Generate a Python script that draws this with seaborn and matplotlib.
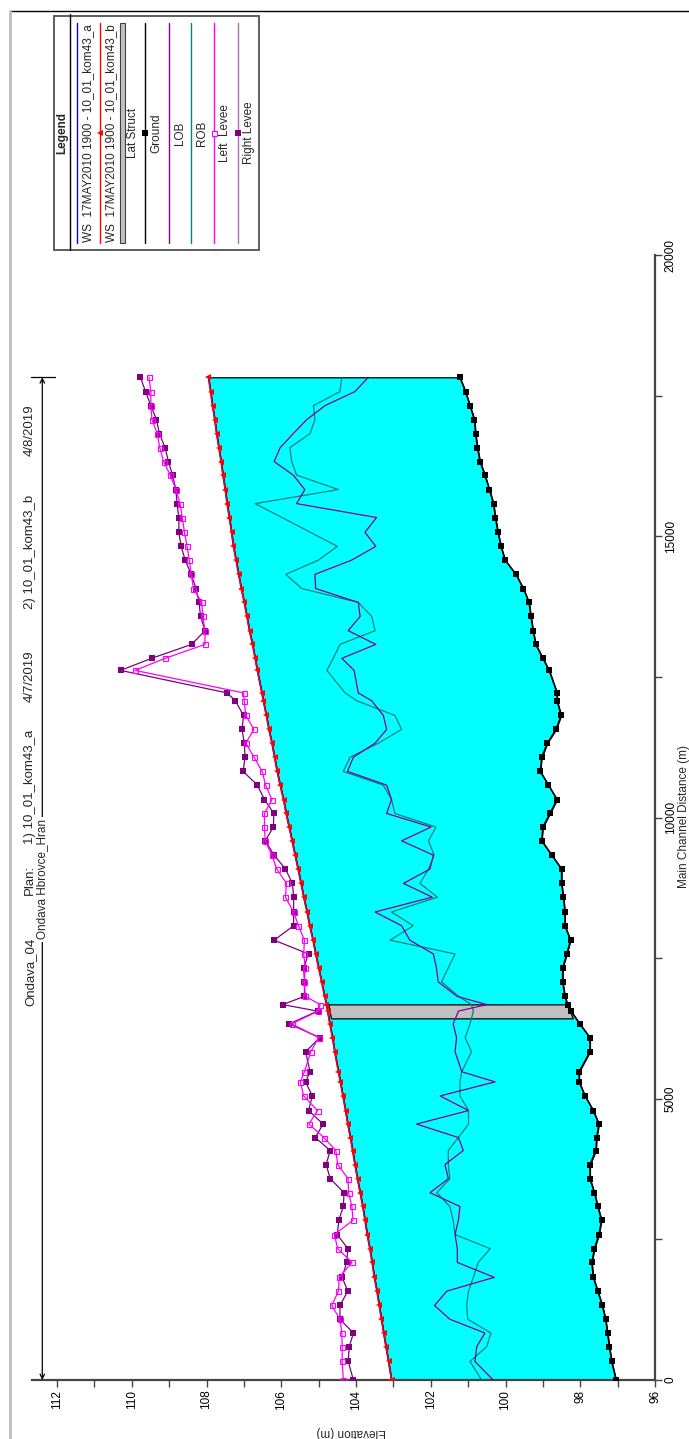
import matplotlib
matplotlib.use("Agg")
import matplotlib.pyplot as plt
import matplotlib.transforms as mtransforms
from matplotlib.lines import Line2D
from matplotlib.patches import Rectangle
from matplotlib.ticker import MultipleLocator
import seaborn as sns

sns.set_theme(style="white")
plt.rcParams["font.family"] = ["Liberation Sans", "DejaVu Sans"]

W, H = 689, 1439

# ── profile data (main channel distance in m, elevations in m) ──────────────
dist = [0, 330, 595, 835, 1080, 1325, 1580, 1825, 2090, 2335, 2585, 2840, 3085, 3330, 3578,
        3830, 4080, 4310, 4550, 4790, 5050, 5300, 5480, 5836, 6087, 6331, 6558, 6674, 6821,
        7078, 7329, 7574, 7819, 8076, 8320, 8584, 8828, 9085, 9330, 9585, 9830, 10072, 10320, 10575, 10820,
        11072, 11322, 11565, 11815, 12075, 12215, 12615, 12830, 13077, 13322, 13574, 13824, 14070, 14322, 14575,
        14820, 15070, 15333, 15580, 15830, 16087, 16328, 16575, 16824, 17073, 17322, 17571, 17826]

ground = [97.04, 97.16, 97.22, 97.27, 97.32, 97.41, 97.53, 97.65, 97.69, 97.62, 97.50, 97.43, 97.53, 97.62, 97.74,
          97.74, 97.58, 97.56, 97.50, 97.65, 97.87, 98.03, 98.03, 97.74, 97.74, 98.01, 98.25, 98.34, 98.41,
          98.47, 98.47, 98.36, 98.26, 98.41, 98.41, 98.45, 98.50, 98.50, 98.76, 99.03, 99.00, 98.81, 98.62, 98.85, 99.07,
          99.03, 98.88, 98.65, 98.51, 98.62, 98.62, 98.83, 99.00, 99.19, 99.26, 99.32, 99.37, 99.52, 99.72, 100.01,
          100.12, 100.20, 100.27, 100.32, 100.43, 100.55, 100.68, 100.75, 100.80, 100.83, 100.95, 101.07, 101.22]

ws_a = [103.05, 103.13, 103.20, 103.26, 103.32, 103.38, 103.44, 103.51, 103.57, 103.63, 103.70, 103.76, 103.82, 103.89, 103.96,
        104.03, 104.09, 104.15, 104.22, 104.28, 104.35, 104.42, 104.47, 104.57, 104.63, 104.70, 104.76, 104.79, 104.84,
        104.92, 105.00, 105.08, 105.15, 105.24, 105.31, 105.40, 105.47, 105.55, 105.63, 105.71, 105.79, 105.87, 105.94, 106.03, 106.11,
        106.18, 106.25, 106.33, 106.40, 106.48, 106.52, 106.64, 106.70, 106.77, 106.85, 106.92, 106.99, 107.07, 107.14, 107.21,
        107.28, 107.33, 107.39, 107.45, 107.50, 107.56, 107.61, 107.67, 107.73, 107.78, 107.84, 107.89, 107.95]
ws_b = list(ws_a)

right_levee = [104.07, 104.21, 104.18, 104.07, 104.43, 104.43, 104.22, 104.37, 104.25, 104.22, 104.50, 104.46, 104.34, 104.32, 104.69,
               104.80, 104.69, 105.09, 104.88, 105.27, 105.17, 105.35, 105.23, 105.35, 104.97, 105.79, 105.03, 105.96, 105.38,
               105.38, 105.40, 105.27, 106.19, 105.67, 105.67, 105.67, 105.70, 105.89, 106.19, 106.43, 106.21, 106.20, 106.45, 106.64, 107.02,
               106.97, 106.99, 107.05, 107.01, 107.23, 107.45, 110.30, 109.47, 108.40, 108.04, 108.16, 108.20, 108.28, 108.41, 108.57,
               108.68, 108.74, 108.74, 108.79, 108.82, 108.91, 109.02, 109.11, 109.26, 109.34, 109.49, 109.63, 109.77]

left_levee = [104.34, 104.37, 104.37, 104.38, 104.43, 104.65, 104.47, 104.45, 104.11, 104.49, 104.58, 104.08, 104.11, 104.20, 104.21,
              104.49, 104.54, 104.86, 105.26, 105.03, 105.40, 105.49, 105.38, 105.21, 105.00, 105.72, 105.01, 104.96, 105.36,
              105.38, 105.36, 105.40, 105.38, 105.54, 105.67, 105.89, 105.86, 106.12, 106.25, 106.43, 106.45, 106.45, 106.25, 106.42, 106.51,
              106.73, 106.95, 106.73, 106.95, 106.99, 107.01, 109.91, 109.11, 108.04, 108.04, 108.10, 108.13, 108.35, 108.41, 108.46,
              108.52, 108.59, 108.65, 108.71, 108.82, 108.97, 109.15, 109.25, 109.32, 109.46, 109.49, 109.49, 109.54]

lob = [100.33, 100.82, 100.77, 100.55, 101.49, 101.90, 101.57, 100.30, 101.29, 101.29, 101.35, 101.26, 101.22, 102.02, 101.53,
       101.62, 101.13, 101.26, 102.38, 100.99, 101.75, 100.28, 101.17, 101.35, 101.31, 101.40, 101.26, 100.50, 101.30,
       101.80, 101.85, 101.93, 102.56, 102.78, 103.49, 101.96, 102.73, 102.02, 101.93, 102.78, 101.99, 103.18, 103.05, 103.18, 104.23,
       104.07, 103.49, 103.18, 103.27, 103.58, 103.94, 104.05, 104.38, 103.47, 104.21, 103.89, 103.94, 105.08, 105.10, 104.12,
       103.47, 103.76, 103.45, 105.59, 105.37, 105.68, 106.19, 106.03, 105.68, 105.32, 104.83, 104.03, 103.67]

rob = [100.64, 100.95, 100.50, 100.39, 101.01, 101.04, 100.99, 100.86, 100.73, 100.41, 101.35, 101.40, 101.49, 101.84, 101.49,
       101.53, 101.53, 101.26, 100.99, 100.99, 101.22, 101.22, 101.17, 100.91, 101.08, 100.95, 100.86, 100.91, 101.26,
       101.71, 101.53, 101.35, 103.09, 102.47, 103.05, 101.82, 102.29, 102.06, 101.91, 102.06, 101.86, 102.96, 103.05, 103.27, 104.34,
       104.16, 103.40, 102.78, 102.96, 103.98, 104.29, 104.78, 104.61, 104.43, 103.49, 103.58, 103.94, 105.45, 105.88, 105.01,
       104.50, 105.22, 105.98, 106.70, 104.47, 105.59, 105.72, 105.77, 105.23, 105.10, 105.14, 104.43, 104.38]

# lateral structure block
lat_d = [6429, 6678]
lat_top = [104.67, 104.74]
lat_bottom = [98.20, 98.34]

elev_ticks = [96, 98, 100, 102, 104, 106, 108, 110, 112]
dist_ticks = [0, 5000, 10000, 15000, 20000]

title_parts = [("Ondava_04", 972), ("Plan:", 880), ("1) 10_01_kom43_a", 787),
               ("4/7/2019", 676), ("2) 10_01_kom43_b", 552), ("4/8/2019", 430)]

legend_labels = ["WS  17MAY2010 1900 - 10_01_kom43_a", "WS  17MAY2010 1900 - 10_01_kom43_b",
                 "Lat Struct", "Ground", "LOB", "ROB", "Left  Levee", "Right Levee"]

C_WS_A, C_WS_B = "#0000FF", "#FF0000"
C_LOB, C_ROB = "#8B008B", "#008080"
C_LL, C_RL = "#FF00FF", "#800080"
AXC = "#454545"


def fx(px):
    return px / W


def fy(py):
    return 1 - py / H


fig = plt.figure(figsize=(W / 100, H / 100), dpi=100)
ax = fig.add_axes([fx(32), fy(1380), (655 - 32) / W, (1380 - 255) / H])

# water between ground and WS
ax.fill_betweenx(dist, ground, ws_b, facecolor="#00FFFF", edgecolor="black", linewidth=0.9, zorder=1)
ax.fill_betweenx(lat_d, lat_bottom, lat_top, facecolor="#C0C0C0", edgecolor="black", linewidth=0.9, zorder=2)

common = dict(sort=False, estimator=None, ax=ax)
sns.lineplot(x=rob, y=dist, color=C_ROB, linewidth=0.9, zorder=3, **common)
sns.lineplot(x=lob, y=dist, color=C_LOB, linewidth=0.9, zorder=3, **common)
sns.lineplot(x=ground, y=dist, color="black", linewidth=1.1, marker="s", markersize=4,
             markeredgewidth=0, zorder=4, **common)
sns.lineplot(x=ws_a, y=dist, color=C_WS_A, linewidth=1.1, zorder=4, **common)
sns.lineplot(x=ws_b, y=dist, color=C_WS_B, linewidth=1.0, marker="<", markersize=4,
             markeredgewidth=0, zorder=5, **common)
sns.lineplot(x=right_levee, y=dist, color=C_RL, linewidth=0.9, marker="s", markersize=3.8,
             markeredgewidth=0, zorder=6, **common)
sns.lineplot(x=left_levee, y=dist, color=C_LL, linewidth=0.9, marker="s", markersize=3.6,
             markerfacecolor="none", markeredgecolor=C_LL, markeredgewidth=0.8, zorder=6, **common)

ax.set_xlim(112.67, 96)
ax.set_ylim(0, 20000)
ax.set_xlabel("")
ax.set_ylabel("")

for side in ("top", "left"):
    ax.spines[side].set_visible(False)
for side in ("bottom", "right"):
    ax.spines[side].set_color(AXC)
    ax.spines[side].set_linewidth(1.6)

ax.set_xticks(elev_ticks)
ax.xaxis.set_minor_locator(MultipleLocator(1))
ax.yaxis.tick_right()
ax.set_yticks(dist_ticks)
ax.yaxis.set_minor_locator(MultipleLocator(2500))
ax.tick_params(axis="both", which="both", direction="out", length=5, width=1, color=AXC,
               labelsize=8.5, pad=2, labelcolor="black")
ax.tick_params(axis="x", which="both", bottom=True, top=False, labelrotation=90)
ax.tick_params(axis="y", which="both", right=True, left=False, labelrotation=90)
plt.setp(ax.get_yticklabels(), va="center")

# reach arrow and name
trans = mtransforms.blended_transform_factory(ax.transAxes, ax.transData)
xa = (42.3 - 32) / (655 - 32)
ax.annotate("", xy=(xa, dist[-1]), xytext=(xa, 0), xycoords=trans, textcoords=trans,
            arrowprops=dict(arrowstyle="<->", color="black", lw=0.9, shrinkA=0, shrinkB=0,
                            mutation_scale=8))
ax.plot([-0.002, 0.037], [dist[-1], dist[-1]], color="black", lw=0.9, transform=trans, clip_on=False)
ax.text(xa, 8900, "Ondava Hbrovce_Hran", transform=trans, rotation=90, ha="center", va="center",
        fontsize=8.5, bbox=dict(facecolor="white", edgecolor="none", pad=1.5), zorder=7)

# axis titles
fig.text(fx(351), fy(1432), "Elevation (m)", rotation=180, ha="center", va="center", fontsize=8.5)
fig.text(fx(684), fy(817), "Main Channel Distance (m)", rotation=90, ha="center", va="center", fontsize=8.5)

# plot title
for txt, ypx in title_parts:
    fig.text(fx(30), fy(ypx), txt, rotation=90, ha="center", va="center", fontsize=9.5)

# page border
fig.add_artist(Line2D([fx(10), 1], [fy(11), fy(11)], color="black", lw=1))
fig.add_artist(Line2D([fx(10), fx(10)], [fy(11), 0], color="#BDBDBD", lw=2))

# legend (drawn by hand, rotated like the rest of the chart)
fig.add_artist(Rectangle((fx(54), fy(250)), (259 - 54) / W, (250 - 16) / H, transform=fig.transFigure,
                         facecolor="white", edgecolor="#505050", lw=1.3))
fig.add_artist(Line2D([fx(70), fx(70)], [fy(14), fy(250)], color="black", lw=1))
fig.text(fx(62), fy(133), "Legend", rotation=90, ha="center", va="center", fontsize=8.5, fontweight="bold")

y_lo, y_hi, y_mid = fy(243), fy(23), fy(133)
entry_x = [77, 100, 122, 145, 169, 191, 214, 238]
for xl, lab in zip(entry_x, legend_labels):
    fig.text(fx(xl + 11), y_mid, lab, rotation=90, ha="center", va="center", fontsize=8.5)

fig.add_artist(Line2D([fx(77)] * 2, [y_lo, y_hi], color=C_WS_A, lw=1))
fig.add_artist(Line2D([fx(100)] * 2, [y_lo, y_hi], color=C_WS_B, lw=1))
fig.add_artist(Line2D([fx(100)], [y_mid], color=C_WS_B, marker="<", markersize=4, markeredgewidth=0))
fig.add_artist(Rectangle((fx(120), y_lo), 5 / W, y_hi - y_lo, transform=fig.transFigure,
                         facecolor="#C0C0C0", edgecolor="#404040", lw=0.8))
fig.add_artist(Line2D([fx(145)] * 2, [y_lo, y_hi], color="black", lw=1))
fig.add_artist(Line2D([fx(145)], [y_mid], color="black", marker="s", markersize=4, markeredgewidth=0))
fig.add_artist(Line2D([fx(169)] * 2, [y_lo, y_hi], color=C_LOB, lw=1))
fig.add_artist(Line2D([fx(191)] * 2, [y_lo, y_hi], color=C_ROB, lw=1))
fig.add_artist(Line2D([fx(214)] * 2, [y_lo, y_hi], color=C_LL, lw=1))
fig.add_artist(Line2D([fx(214)], [y_mid], color=C_LL, marker="s", markersize=3.6,
                      markerfacecolor="white", markeredgecolor=C_LL, markeredgewidth=0.8))
fig.add_artist(Line2D([fx(238)] * 2, [y_lo, y_hi], color="#B070B0", lw=1))
fig.add_artist(Line2D([fx(238)], [y_mid], color=C_RL, marker="s", markersize=3.8, markeredgewidth=0))

fig.savefig("out.png", dpi=100)
plt.close(fig)
